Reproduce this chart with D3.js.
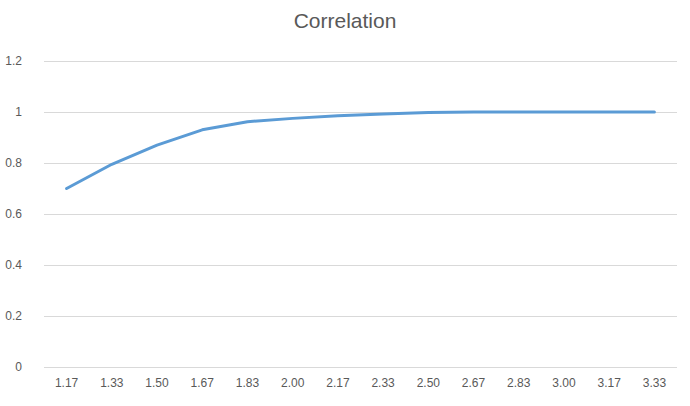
<!DOCTYPE html>
<html>
<head>
  <title>Correlation</title>
  <script src="https://d3js.org/d3.v7.min.js"></script>
  <style>
    body { margin: 0; background: #fff; }
    text { font-family: "Liberation Sans", "DejaVu Sans", sans-serif; fill: #595959; }
  </style>
</head>
<body>
  <script>

// categories and values
const categories = ["1.17", "1.33", "1.50", "1.67", "1.83", "2.00", "2.17",
                    "2.33", "2.50", "2.67", "2.83", "3.00", "3.17", "3.33"];
const correlation = [0.70, 0.795, 0.87, 0.93, 0.962, 0.975, 0.985,
                     0.992, 0.998, 1, 1, 1, 1, 1];
const yTicks = [0, 0.2, 0.4, 0.6, 0.8, 1, 1.2];

const W = 690, H = 406;
const margin = { top: 61, right: 13, bottom: 39, left: 44 };

const svg = d3.select("body").append("svg")
  .attr("width", W)
  .attr("height", H);

const x = d3.scaleBand()
  .domain(categories)
  .range([margin.left, W - margin.right]);

const y = d3.scaleLinear()
  .domain([0, 1.2])
  .range([H - margin.bottom, margin.top]);

// gridlines
svg.append("g")
  .selectAll("line")
  .data(yTicks)
  .join("line")
  .attr("x1", margin.left)
  .attr("x2", W - margin.right)
  .attr("y1", d => Math.round(y(d)) + 0.5)
  .attr("y2", d => Math.round(y(d)) + 0.5)
  .attr("stroke", "#d9d9d9")
  .attr("stroke-width", 1);

// y labels
svg.append("g")
  .selectAll("text")
  .data(yTicks)
  .join("text")
  .attr("x", 22)
  .attr("y", d => y(d))
  .attr("dy", "0.35em")
  .attr("text-anchor", "end")
  .style("font-size", "12px")
  .text(d => d3.format("~g")(d));

// x labels
svg.append("g")
  .selectAll("text")
  .data(categories)
  .join("text")
  .attr("x", d => x(d) + x.bandwidth() / 2)
  .attr("y", H - margin.bottom + 20)
  .attr("text-anchor", "middle")
  .style("font-size", "12px")
  .text(d => d);

// line
const line = d3.line()
  .x((d, i) => x(categories[i]) + x.bandwidth() / 2)
  .y(d => y(d));

svg.append("path")
  .datum(correlation)
  .attr("d", line)
  .attr("fill", "none")
  .attr("stroke", "#5b9bd5")
  .attr("stroke-width", 3)
  .attr("stroke-linecap", "round")
  .attr("stroke-linejoin", "round");

// title
svg.append("text")
  .attr("x", W / 2)
  .attr("y", 28)
  .attr("text-anchor", "middle")
  .style("font-size", "21px")
  .text("Correlation");

  </script>
</body>
</html>
